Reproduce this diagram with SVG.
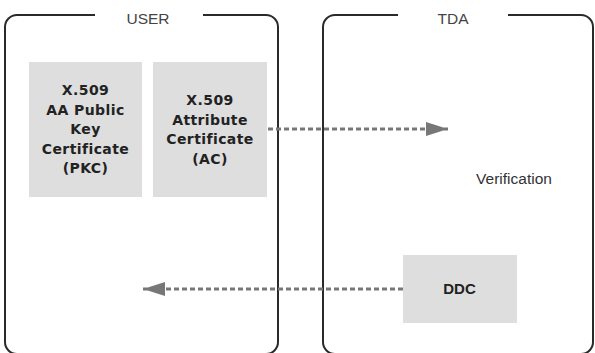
<svg xmlns="http://www.w3.org/2000/svg" width="595" height="353" viewBox="0 0 595 353">
<style>
.panel{fill:none;stroke:#2a2a2a;stroke-width:2}
.ptitle{font-family:"Liberation Sans",Arial,sans-serif;font-size:15.5px;fill:#444;text-anchor:middle}
.box{fill:#dedede}
.bt{font-family:"DejaVu Sans",sans-serif;font-weight:bold;font-size:14px;letter-spacing:0.4px;fill:#222;text-anchor:middle}
.ddc{font-family:"Liberation Sans",Arial,sans-serif;font-weight:bold;font-size:15px;fill:#222;text-anchor:middle}
.lbl{font-family:"Liberation Sans",Arial,sans-serif;font-size:15.5px;fill:#333;text-anchor:middle}
.conn{fill:none;stroke:#777;stroke-width:3;stroke-dasharray:5 3}
</style>
<defs>
<marker id="ah" viewBox="0 0 22 14" refX="22" refY="7" markerWidth="22" markerHeight="14" markerUnits="userSpaceOnUse" orient="auto">
<path d="M0,0 L22,7 L0,14 Z" fill="#777"/>
</marker>
</defs>
<rect width="595" height="353" fill="#fff"/>
<g id="user">
<path class="panel" d="M95,15 H17 A12,12 0 0 0 5,27 V342 A12,12 0 0 0 17,354 H266 A12,12 0 0 0 278,342 V27 A12,12 0 0 0 266,15 H203"/>
<text class="ptitle" x="148" y="23.5">USER</text>
</g>
<g id="tda">
<path class="panel" d="M398,15 H335 A12,12 0 0 0 323,27 V342 A12,12 0 0 0 335,354 H581 A12,12 0 0 0 593,342 V27 A12,12 0 0 0 581,15 H508"/>
<text class="ptitle" x="453" y="23.5">TDA</text>
</g>
<g id="pkc">
<rect class="box" x="29" y="62" width="113" height="135"/>
<text class="bt" x="85.5" y="95">X.509</text>
<text class="bt" x="85.5" y="114.5">AA Public</text>
<text class="bt" x="85.5" y="134">Key</text>
<text class="bt" x="85.5" y="153.5">Certificate</text>
<text class="bt" x="85.5" y="173">(PKC)</text>
</g>
<g id="ac">
<rect class="box" x="153" y="62" width="114" height="135"/>
<text class="bt" x="210" y="105">X.509</text>
<text class="bt" x="210" y="124.5">Attribute</text>
<text class="bt" x="210" y="144">Certificate</text>
<text class="bt" x="210" y="163.5">(AC)</text>
</g>
<g id="verification">
<text class="lbl" x="514" y="184">Verification</text>
</g>
<g id="ddc">
<rect class="box" x="403" y="255" width="114" height="68"/>
<text class="ddc" x="459.5" y="293.5">DDC</text>
</g>
<g id="connectors">
<path class="conn" d="M268,129 H448" marker-end="url(#ah)"/>
<path class="conn" d="M403,289 H143" marker-end="url(#ah)"/>
</g>
</svg>
